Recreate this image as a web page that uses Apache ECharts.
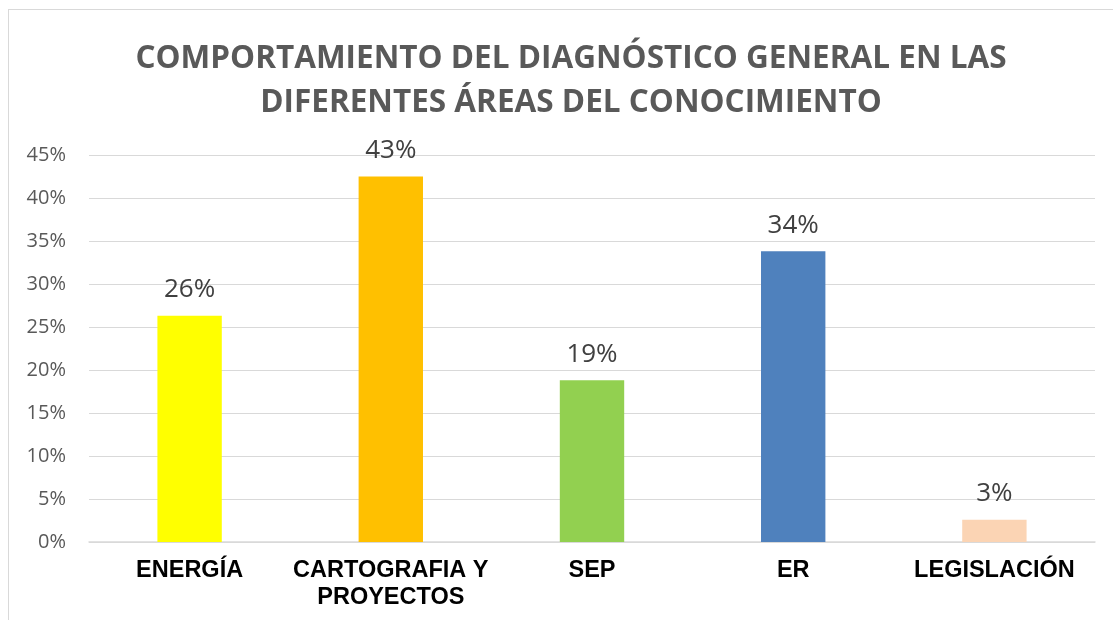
<!DOCTYPE html>
<html>
<head>
<meta charset="utf-8">
<script src="https://cdn.jsdelivr.net/npm/echarts@6/dist/echarts.min.js"></script>
<style>
  html, body { margin: 0; padding: 0; background: #fff; }
  .frame { position: absolute; left: 8px; top: 9px; width: 1110px; height: 620px; border: 1px solid #d9d9d9; box-sizing: border-box; }
  .bar { position: absolute; left: 0; top: 0; width: 1113px; height: 620px; }
</style>
</head>
<body>
<div class="frame"></div>
<div class="bar"></div>
<script>
// 数据
var categories = ['ENERGÍA', 'CARTOGRAFIA Y\nPROYECTOS', 'SEP', 'ER', 'LEGISLACIÓN'];
var values = [0.263, 0.425, 0.188, 0.338, 0.026];
var barColors = ['#FFFF00', '#FFC000', '#92D050', '#4F81BD', '#FBD4B4'];

(function () {
  var myChart = echarts.init(document.querySelector('.bar'));
  var data = values.map(function (v, i) {
    return { value: v, itemStyle: { color: barColors[i] } };
  });
  var option = {
    animation: false,
    title: {
      text: 'COMPORTAMIENTO DEL DIAGNÓSTICO GENERAL EN LAS\nDIFERENTES ÁREAS DEL CONOCIMIENTO',
      left: 566,
      textAlign: 'center',
      top: 32,
      textStyle: {
        fontFamily: 'Open Sans',
        fontWeight: 'bold',
        fontSize: 31.5,
        lineHeight: 44,
        color: '#595959'
      }
    },
    grid: {
      left: 89,
      right: 18,
      top: 155,
      bottom: 78
    },
    xAxis: {
      type: 'category',
      data: categories,
      axisTick: { show: false },
      axisLine: { lineStyle: { color: '#d9d9d9', width: 1.5 } },
      axisLabel: {
        color: '#000',
        fontFamily: 'Liberation Sans',
        fontWeight: 'bold',
        fontSize: 23.5,
        lineHeight: 27,
        margin: 15,
        interval: 0
      }
    },
    yAxis: {
      type: 'value',
      min: 0,
      max: 0.45,
      interval: 0.05,
      axisLine: { show: false },
      axisTick: { show: false },
      axisLabel: {
        color: '#595959',
        fontFamily: 'Open Sans',
        fontSize: 20,
        margin: 23,
        formatter: function (v) { return Math.round(v * 100) + '%'; }
      },
      splitLine: { lineStyle: { color: '#d9d9d9', width: 1 } }
    },
    series: [
      {
        type: 'bar',
        barWidth: '32%',
        data: data,
        label: {
          show: true,
          position: 'top',
          distance: 13,
          color: '#404040',
          fontFamily: 'Open Sans',
          fontSize: 26,
          formatter: function (p) { return Math.round(p.value * 100) + '%'; }
        }
      }
    ]
  };
  myChart.setOption(option);
  window.addEventListener('resize', function () {
    myChart.resize();
  });
})();
</script>
</body>
</html>
